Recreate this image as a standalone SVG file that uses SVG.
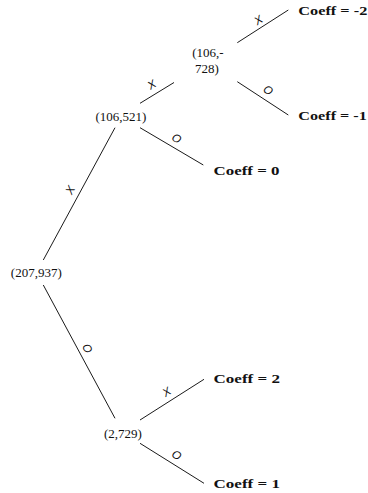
<svg xmlns="http://www.w3.org/2000/svg" width="368" height="493" viewBox="0 0 368 493">
  <style>
    .edge { stroke: #000; stroke-width: 0.9; fill: none; }
    .state { font-family: "Liberation Serif", "DejaVu Serif", serif; font-size: 13px; fill: #111; text-anchor: middle; dominant-baseline: central; }
    .leaf { font-family: "Liberation Serif", "DejaVu Serif", serif; font-size: 13px; font-weight: bold; fill: #111; dominant-baseline: central; }
    .move { font-family: "Liberation Sans", "DejaVu Sans", sans-serif; font-size: 11.5px; font-style: italic; fill: #111; text-anchor: middle; dominant-baseline: central; }
  </style>
  <rect width="368" height="493" fill="#fff"/>

  <!-- branches of the game tree -->
  <g id="edges">
    <line class="edge" x1="43.3" y1="260" x2="115" y2="127.7"/>
    <line class="edge" x1="43.3" y1="285" x2="115" y2="418.3"/>
    <line class="edge" x1="140" y1="103.3" x2="174" y2="82.5"/>
    <line class="edge" x1="140" y1="127.7" x2="203.3" y2="165"/>
    <line class="edge" x1="237.3" y1="42.7" x2="288.3" y2="10"/>
    <line class="edge" x1="237.3" y1="81.7" x2="288.3" y2="115"/>
    <line class="edge" x1="140" y1="420" x2="204" y2="379.3"/>
    <line class="edge" x1="140" y1="443.3" x2="204" y2="483.3"/>

    <text class="move" x="70" y="190" transform="rotate(-61.5 70 190)">X</text>
    <text class="move" x="87.3" y="348.3" transform="rotate(61.7 87.3 348.3)">O</text>
    <text class="move" x="151.7" y="84.5" transform="rotate(-31.5 151.7 84.5)">X</text>
    <text class="move" x="176.7" y="138.3" transform="rotate(30.5 176.7 138.3)">O</text>
    <text class="move" x="258.3" y="20" transform="rotate(-32.7 258.3 20)">X</text>
    <text class="move" x="268.3" y="90" transform="rotate(33 268.3 90)">O</text>
    <text class="move" x="166.7" y="391.7" transform="rotate(-32.5 166.7 391.7)">X</text>
    <text class="move" x="176.7" y="455" transform="rotate(32 176.7 455)">O</text>
  </g>

  <!-- positions -->
  <g id="root"><text class="state" x="36.3" y="272.5">(207,937)</text></g>
  <g id="n106-521"><text class="state" x="121" y="116">(106,521)</text></g>
  <g id="n106-728">
    <text class="state" x="208" y="52.5">(106,-</text>
    <text class="state" x="207" y="68">728)</text>
  </g>
  <g id="n2-729"><text class="state" x="123" y="433">(2,729)</text></g>

  <!-- terminal values -->
  <g id="leaf-m2"><text class="leaf" x="298.3" y="10" textLength="69" lengthAdjust="spacingAndGlyphs">Coeff = -2</text></g>
  <g id="leaf-m1"><text class="leaf" x="298.3" y="115" textLength="68.5" lengthAdjust="spacingAndGlyphs">Coeff = -1</text></g>
  <g id="leaf-0"><text class="leaf" x="213.5" y="170" textLength="66" lengthAdjust="spacingAndGlyphs">Coeff = 0</text></g>
  <g id="leaf-2"><text class="leaf" x="213.5" y="378" textLength="66.5" lengthAdjust="spacingAndGlyphs">Coeff = 2</text></g>
  <g id="leaf-1"><text class="leaf" x="213.5" y="483.5" textLength="66.5" lengthAdjust="spacingAndGlyphs">Coeff = 1</text></g>
</svg>
